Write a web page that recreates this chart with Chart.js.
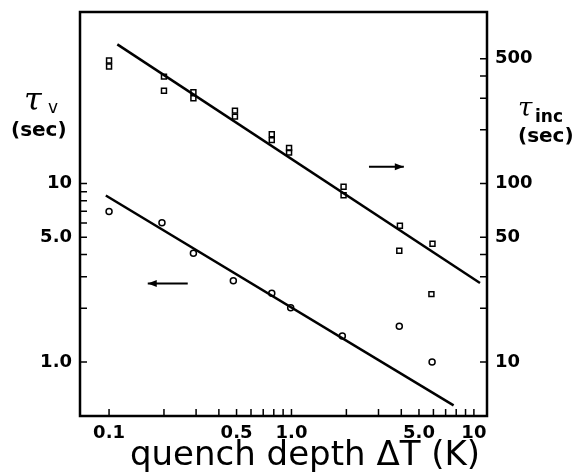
<!DOCTYPE html>
<html>
<head>
<meta charset="utf-8">
<script src="https://cdn.jsdelivr.net/npm/chart.js@4.4.0/dist/chart.umd.min.js"></script>
<style>
body { margin: 0; background: #fff; }
#chart-box { width: 585px; height: 475px; }
</style>
</head>
<body>
<div id="chart-box"><canvas id="quench-graph" width="585" height="475"></canvas></div>
<script>
// tau_inc (squares, right axis)
let incDepth = [0.1, 0.1, 0.2, 0.2, 0.29, 0.29, 0.49, 0.49, 0.78, 0.78, 0.97, 0.97, 1.93, 1.93, 3.93, 3.9, 5.93, 5.85];
let incTau   = [489, 453, 397, 331, 325, 300, 256, 237, 189, 175, 158, 149, 96, 86, 58, 42, 46, 24];

// tau_v (circles, left axis)
let vDepth = [0.1, 0.195, 0.29, 0.48, 0.78, 0.99, 1.9, 3.9, 5.9];
let vTau   = [6.97, 6.03, 4.07, 2.85, 2.43, 2.01, 1.40, 1.585, 1.0];

// fitted lines (end points)
let incFitDepth = [0.111, 10.8];
let incFitTau   = [602, 27.7];
let vFitDepth   = [0.096, 7.74];
let vFitTau     = [8.57, 0.571];

// ticks
let xTicks  = [0.1, 0.2, 0.3, 0.4, 0.5, 0.6, 0.7, 0.8, 0.9, 1, 2, 3, 4, 5, 6, 7, 8, 9, 10];
let xLabels = { 0.1: '0.1', 0.5: '0.5', 1: '1.0', 5: '5.0', 10: '10' };
let yTicks  = [1, 2, 3, 4, 5, 6, 7, 8, 9, 10];
let yLabels = { 1: '1.0', 5: '5.0', 10: '10' };
let y2Ticks  = [10, 20, 30, 40, 50, 100, 200, 300, 400, 500];
let y2Labels = { 10: '10', 50: '50', 100: '100', 500: '500' };

// arrows pointing at the axis each series belongs to
let arrowV   = { from: 0.27, to: 0.163, at: 2.75 };
let arrowInc = { from: 2.66, to: 4.13, at: 12.4 };

let tickFont = { family: 'DejaVu Sans', size: 18, weight: 'bold' };

function pairs(xs, ys) {
    return xs.map(function (x, i) { return { x: x, y: ys[i] }; });
}

function fixedTicks(list) {
    return function (scale) { scale.ticks = list.map(function (v) { return { value: v }; }); };
}

function arrow(ctx, x1, x2, y) {
    ctx.beginPath();
    ctx.moveTo(x1, y); ctx.lineTo(x2, y);
    ctx.stroke();
    let d = x2 > x1 ? 1 : -1;
    ctx.beginPath();
    ctx.moveTo(x2, y);
    ctx.lineTo(x2 - d * 9, y - 3.5);
    ctx.lineTo(x2 - d * 9, y + 3.5);
    ctx.closePath();
    ctx.fill();
}

let framePlugin = {
    id: 'frame',
    afterDraw: function (chart) {
        let ctx = chart.ctx;
        let a = chart.chartArea;
        let sx = chart.scales.x, sy = chart.scales.y, sy2 = chart.scales.y2;
        ctx.save();
        ctx.strokeStyle = '#000';
        ctx.fillStyle = '#000';
        ctx.lineWidth = 2.5;
        ctx.strokeRect(a.left, a.top, a.right - a.left, a.bottom - a.top);

        // inward ticks
        ctx.lineWidth = 1.5;
        ctx.beginPath();
        sx.ticks.forEach(function (t) {
            let p = sx.getPixelForValue(t.value);
            ctx.moveTo(p, a.bottom); ctx.lineTo(p, a.bottom - 7);
        });
        sy.ticks.forEach(function (t) {
            let p = sy.getPixelForValue(t.value);
            ctx.moveTo(a.left, p); ctx.lineTo(a.left + 7, p);
        });
        sy2.ticks.forEach(function (t) {
            let p = sy2.getPixelForValue(t.value);
            ctx.moveTo(a.right, p); ctx.lineTo(a.right - 7, p);
        });
        ctx.stroke();

        // arrows
        ctx.lineWidth = 2;
        arrow(ctx, sx.getPixelForValue(arrowV.from), sx.getPixelForValue(arrowV.to), sy.getPixelForValue(arrowV.at));
        arrow(ctx, sx.getPixelForValue(arrowInc.from), sx.getPixelForValue(arrowInc.to), sy.getPixelForValue(arrowInc.at));

        // axis titles
        ctx.textBaseline = 'alphabetic';
        ctx.textAlign = 'left';
        ctx.font = 'italic 32px "DejaVu Serif"';
        ctx.fillText('\u03c4', 24, 110);
        ctx.font = '17px "DejaVu Sans"';
        ctx.fillText('v', 48, 113);
        ctx.font = 'bold 20px "DejaVu Sans"';
        ctx.fillText('(sec)', 11, 136);

        ctx.font = 'italic 26px "DejaVu Serif"';
        ctx.fillText('\u03c4', 518, 116);
        ctx.font = 'bold 17px "DejaVu Sans"';
        ctx.fillText('inc', 535, 122);
        ctx.font = 'bold 20px "DejaVu Sans"';
        ctx.fillText('(sec)', 518, 142);

        ctx.font = '34px "DejaVu Sans"';
        ctx.textAlign = 'center';
        ctx.fillText('quench depth \u0394T (K)', 305, 465);
        ctx.restore();
    }
};

function fitY(w) {
    return function (scale) {
        scale.width = w;
        scale.paddingTop = 0;
        scale.paddingBottom = 0;
    };
}

let ctx = document.querySelector('#quench-graph').getContext('2d');

let myChart = new Chart(ctx, {
    type: 'scatter',
    data: {
        datasets: [
            {
                data: pairs(incDepth, incTau),
                yAxisID: 'y2',
                pointStyle: 'rect',
                pointRadius: 3.5,
                borderColor: '#000',
                backgroundColor: 'rgba(0,0,0,0)',
                borderWidth: 1.5
            },
            {
                data: pairs(vDepth, vTau),
                yAxisID: 'y',
                pointStyle: 'circle',
                pointRadius: 3,
                borderColor: '#000',
                backgroundColor: 'rgba(0,0,0,0)',
                borderWidth: 1.5
            },
            {
                data: pairs(incFitDepth, incFitTau),
                yAxisID: 'y2',
                showLine: true,
                pointRadius: 0,
                borderColor: '#000',
                borderWidth: 2.5
            },
            {
                data: pairs(vFitDepth, vFitTau),
                yAxisID: 'y',
                showLine: true,
                pointRadius: 0,
                borderColor: '#000',
                borderWidth: 2.5
            }
        ]
    },
    options: {
        responsive: false,
        animation: false,
        layout: { padding: { top: 12, left: 0, right: 0, bottom: 0 } },
        plugins: {
            legend: { display: false },
            tooltip: { enabled: false }
        },
        scales: {
            x: {
                type: 'logarithmic',
                min: 0.0693,
                max: 11.8,
                grid: { display: false, drawTicks: false },
                border: { display: false },
                afterBuildTicks: fixedTicks(xTicks),
                afterFit: function (scale) {
                    scale.height = 59;
                    scale.paddingLeft = 0;
                    scale.paddingRight = 0;
                },
                ticks: {
                    color: '#000',
                    font: tickFont,
                    padding: 7,
                    autoSkip: false,
                    maxRotation: 0,
                    callback: function (v) { return xLabels[v] || ''; }
                }
            },
            y: {
                type: 'logarithmic',
                position: 'left',
                min: 0.498,
                max: 91.4,
                grid: { display: false, drawTicks: false },
                border: { display: false },
                afterBuildTicks: fixedTicks(yTicks),
                afterFit: fitY(80),
                ticks: {
                    color: '#000',
                    font: tickFont,
                    padding: 8,
                    autoSkip: false,
                    callback: function (v) { return yLabels[v] || ''; }
                }
            },
            y2: {
                type: 'logarithmic',
                position: 'right',
                min: 4.98,
                max: 914,
                grid: { display: false, drawTicks: false },
                border: { display: false },
                afterBuildTicks: fixedTicks(y2Ticks),
                afterFit: fitY(98),
                ticks: {
                    color: '#000',
                    font: tickFont,
                    padding: 8,
                    autoSkip: false,
                    callback: function (v) { return y2Labels[v] || ''; }
                }
            }
        }
    },
    plugins: [framePlugin]
});
</script>
</body>
</html>
